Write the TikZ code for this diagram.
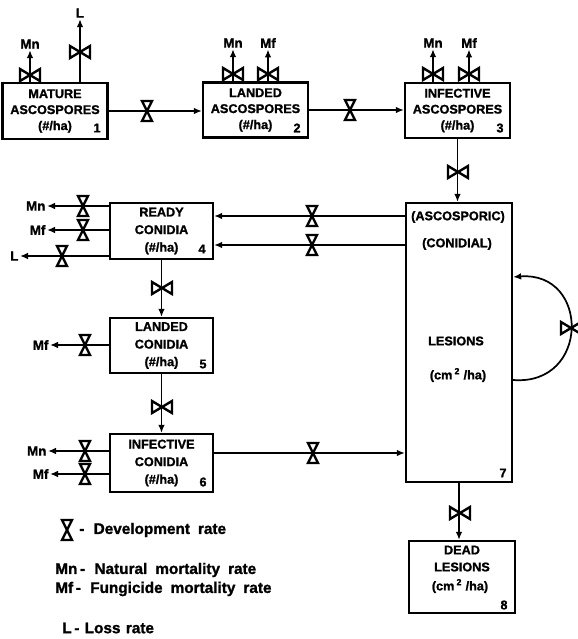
\documentclass[tikz,border=0pt]{standalone}
\usepackage{fontspec}
\setmainfont{Liberation Sans}[BoldFont={Liberation Sans Bold},BoldFeatures={FakeBold=1.3}]
\usetikzlibrary{arrows.meta}
\tikzset{
  arr/.style={line width=1.3pt,-{Latex[length=6pt,width=5pt]}},
  box/.style={draw,line width=1.7pt,inner sep=0pt,align=center,font=\fontsize{9.5}{12}\selectfont\bfseries},
  cbox/.style={box,font=\fontsize{9.5}{13.2}\selectfont\bfseries},
  txt/.style={font=\fontsize{9.5}{12}\selectfont\bfseries,inner sep=0pt},
  lbl/.style={font=\fontsize{10}{11}\selectfont\bfseries,inner sep=1pt},
  leg/.style={font=\fontsize{11.5}{13}\selectfont\bfseries,inner sep=0pt,anchor=west},
  valve/.style={line width=1.8pt,fill=white,line join=miter},
  hg/.pic={
    \draw[valve] (-5,-10) -- (5,-10) -- (0,0) -- cycle;
    \draw[valve] (-5,10) -- (5,10) -- (0,0) -- cycle;
  },
  bt/.pic={
    \draw[valve] (-10,-6) -- (-10,6) -- (0,0) -- cycle;
    \draw[valve] (10,-6) -- (10,6) -- (0,0) -- cycle;
  }
}
\begin{document}
\begin{tikzpicture}[x=0.75pt,y=-0.75pt]
\useasboundingbox (0,0) rectangle (578,639);

% boxes
\node[box,minimum width=78.75pt,minimum height=42pt] (b1) at (55,111) {MATURE\\ASCOSPORES\\(\#/ha)};
\node[box,minimum width=78.75pt,minimum height=41.25pt] (b2) at (255.5,110) {LANDED\\ASCOSPORES\\(\#/ha)};
\node[box,minimum width=78.75pt,minimum height=41.25pt] (b3) at (457.5,110.5) {INFECTIVE\\ASCOSPORES\\(\#/ha)};
\node[cbox,minimum width=77.25pt,minimum height=42pt] (b4) at (161.5,231) {READY\\CONIDIA\\(\#/ha)};
\node[cbox,minimum width=77.25pt,minimum height=41.25pt] (b5) at (161.5,345.5) {LANDED\\CONIDIA\\(\#/ha)};
\node[cbox,minimum width=77.25pt,minimum height=43.5pt] (b6) at (161.5,463) {INFECTIVE\\CONIDIA\\(\#/ha)};
\node[box,minimum width=79.5pt,minimum height=209.25pt] (b7) at (459,342.5) {};
\node[box,minimum width=79.5pt,minimum height=54pt] (b8) at (462,577) {};

% texts inside boxes 7 and 8
\node[txt] (t7a) at (458,217) {(ASCOSPORIC)};
\node[txt] (t7b) at (457,244) {(CONIDIAL)};
\node[txt] (t7c) at (456,341) {LESIONS};
\node[txt] (t7d) at (458,375) {(cm\,\textsuperscript{2} /ha)};
\node[txt] (t8a) at (462,550) {DEAD};
\node[txt] (t8b) at (462,567) {LESIONS};
\node[txt] (t8c) at (460,586) {(cm\,\textsuperscript{2} /ha)};

% box numbers
\node[txt] (n1) at (97,128) {1};
\node[txt] (n2) at (297,128) {2};
\node[txt] (n3) at (500,128) {3};
\node[txt] (n4) at (202,249) {4};
\node[txt] (n5) at (203,364) {5};
\node[txt] (n6) at (203,482) {6};
\node[txt] (n7) at (503,473) {7};
\node[txt] (n8) at (504,605) {8};

% top losses
\node[lbl] (mn1) at (30,44) {Mn};
\node[lbl] (l1) at (80,13) {L};
\node[lbl] (mn2) at (233,43) {Mn};
\node[lbl] (mf2) at (268,43) {Mf};
\node[lbl] (mn3) at (433,43) {Mn};
\node[lbl] (mf3) at (469,43) {Mf};
\draw[arr] (b1.north -| mn1) -- (mn1.south);
\draw[arr] (b1.north -| l1) -- (l1.south);
\draw[arr] (b2.north -| mn2) -- (mn2.south);
\draw[arr] (b2.north -| mf2) -- (mf2.south);
\draw[arr] (b3.north -| mn3) -- (mn3.south);
\draw[arr] (b3.north -| mf3) -- (mf3.south);
\pic at (30,75) {bt};
\pic at (80,52) {bt};
\pic at (233,74) {bt};
\pic at (268,74) {bt};
\pic at (433,74) {bt};
\pic at (469,74) {bt};

% ascospore chain
\draw[arr] (b1.east) -- (b2.west |- b1.east);
\pic at (147,111) {hg};
\draw[arr] (b2.east) -- (b3.west |- b2.east);
\pic at (350,110) {hg};
\draw[arr] (b3.south) -- (b7.north -| b3.south);
\pic at (458,172) {bt};

% lesions to ready conidia
\coordinate (ya) at (0,216);
\coordinate (yb) at (0,245);
\draw[arr] (b7.west |- ya) -- (b4.east |- ya);
\draw[arr] (b7.west |- yb) -- (b4.east |- yb);
\pic at (312,216) {hg};
\pic at (312,245) {hg};

% ready conidia losses
\node[lbl,anchor=east] (mn4) at (47,206) {Mn};
\node[lbl,anchor=east] (mf4) at (47,230) {Mf};
\node[lbl,anchor=east] (l4) at (20,256) {L};
\draw[arr] (b4.west |- mn4) -- (mn4.east);
\draw[arr] (b4.west |- mf4) -- (mf4.east);
\draw[arr] (b4.west |- l4) -- (l4.east);
\pic at (83,206) {hg};
\pic at (83,230) {hg};
\pic at (62,256) {hg};

% conidia chain
\draw[arr] (b4.south) -- (b5.north);
\pic at (162,288) {bt};
\draw[arr] (b5.south) -- (b6.north);
\pic at (162,407) {bt};

\node[lbl,anchor=east] (mf5) at (50,345) {Mf};
\draw[arr] (b5.west |- mf5) -- (mf5.east);
\pic at (85,345) {hg};

\node[lbl,anchor=east] (mn6) at (48,451) {Mn};
\node[lbl,anchor=east] (mf6) at (50,474) {Mf};
\draw[arr] (b6.west |- mn6) -- (mn6.east);
\draw[arr] (b6.west |- mf6) -- (mf6.east);
\pic at (85,451) {hg};
\pic at (85,474) {hg};

% infective conidia to lesions
\coordinate (yc) at (0,453);
\draw[arr] (b6.east |- yc) -- (b7.west |- yc);
\pic at (313,453) {hg};

% lesions to dead lesions
\draw[arr] (b7.south) -- (b8.north -| b7.south);
\pic at (460,513) {bt};

% loop
\coordinate (lpa) at (0,380);
\coordinate (lpb) at (0,277);
\draw[arr] (b7.east |- lpa) .. controls (590,386) and (590,271) .. (b7.east |- lpb);
\pic at (571,328) {bt};

% legend
\pic at (67,530) {hg};
\node[leg] (lg1) at (79,530) {-\hspace{7pt}Development\hspace{6pt}rate};
\node[leg] (lg2) at (55,570) {Mn\hspace{2pt}-\hspace{7pt}Natural\hspace{6pt}mortality\hspace{6pt}rate};
\node[leg] (lg3) at (55,589) {Mf\hspace{2pt}-\hspace{7pt}Fungicide\hspace{6pt}mortality\hspace{6pt}rate};
\node[leg] (lg4) at (62,628) {L\hspace{2pt}-\hspace{4pt}Loss\hspace{4pt}rate};
\end{tikzpicture}
\end{document}
